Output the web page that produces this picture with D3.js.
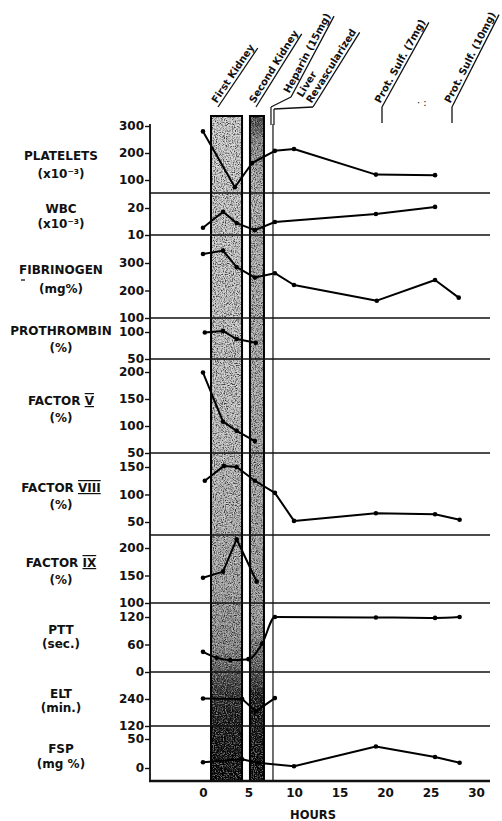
<!DOCTYPE html>
<html>
<head>
<meta charset="utf-8" />
<title>Coagulation profile</title>
<style>
  html, body { margin: 0; background: #fff; }
  svg text { font-family: "DejaVu Sans", sans-serif; fill: #111; }
</style>
</head>
<body>
<div id="container"></div>
<script src="https://cdn.jsdelivr.net/npm/d3@7/dist/d3.min.js"></script>
<script>
// ---- data (hours after start) ----
var xTicks = [0, 5, 10, 15, 20, 25, 30];

var panelNames = ["PLATELETS", "WBC", "FIBRINOGEN", "PROTHROMBIN", "FACTOR V",
                  "FACTOR VIII", "FACTOR IX", "PTT", "ELT", "FSP"];
var panelUnits = ["(x10\u207B\u00B3)", "(x10\u207B\u00B3)", "(mg%)", "(%)", "(%)",
                  "(%)", "(%)", "(sec.)", "(min.)", "(mg %)"];
var panelTicks = [[100, 200, 300], [10, 20], [100, 200, 300], [50, 100], [50, 100, 150, 200],
                  [50, 100, 150], [100, 150, 200], [0, 60, 120], [120, 240], [0, 50]];

var plateletHours = [0, 3.5, 5.4, 7.9, 10, 19, 25.5];
var plateletValues = [280, 73, 163, 208, 215, 120, 118];

var wbcHours = [0, 2.2, 3.7, 5.7, 7.9, 19, 25.5];
var wbcValues = [12.7, 18.6, 14.4, 11.8, 14.8, 17.8, 20.4];

var fibHours = [0, 2.2, 3.7, 5.7, 7.9, 10, 19.1, 25.5, 28.1];
var fibValues = [333, 345, 285, 247, 263, 220, 163, 238, 174];

var prothHours = [0.2, 2.2, 3.7, 5.8];
var prothValues = [99, 102, 87, 80];

var f5Hours = [0, 2.2, 3.7, 5.7];
var f5Values = [199, 108, 91, 72];

var f8Hours = [0.2, 2.3, 3.7, 5.7, 7.9, 10, 19, 25.5, 28.2];
var f8Values = [125, 152, 150, 125, 103, 52, 66, 64, 54];

var f9Hours = [0, 2.2, 3.7, 5.9];
var f9Values = [146, 157, 216, 139];

var pttHours = [0, 1.5, 3, 5, 6.5, 7.9, 19, 25.5, 28.2];
var pttValues = [44, 31, 26, 28, 62, 120, 119, 118, 120];

var eltHours = [0, 4.3, 5.8, 7.9];
var eltValues = [242, 240, 185, 244];

var fspHours = [0, 4.3, 6, 10, 19, 25.5, 28.2];
var fspValues = [10, 15, 9, 3, 37, 19, 9];

var seriesHours = [plateletHours, wbcHours, fibHours, prothHours, f5Hours,
                   f8Hours, f9Hours, pttHours, eltHours, fspHours];
var seriesValues = [plateletValues, wbcValues, fibValues, prothValues, f5Values,
                    f8Values, f9Values, pttValues, eltValues, fspValues];

var kidneyBands = [[0.88, 4.29], [5.16, 6.7]];
var heparinHour = 7.69;
var eventLabels = [["First Kidney"], ["Second Kidney"], ["Heparin (15mg)"],
                   ["Liver", "Revascularized"], ["Prot. Sulf. (7mg)"], ["Prot. Sulf. (10mg)"]];

// ---- layout ----
// lo/hi: [value, pixel y] pairs of two ticks; line: y of the rule under the panel
var layout = [
  {lo: [100, 180], hi: [300, 126], line: 193, nameY: 160, unitY: 178},
  {lo: [10, 235], hi: [20, 208], line: 235, nameY: 213, unitY: 228},
  {lo: [100, 318], hi: [300, 263], line: 318, nameY: 274, unitY: 293},
  {lo: [50, 359], hi: [100, 332], line: 359, nameY: 335, unitY: 352},
  {lo: [50, 453], hi: [200, 372], line: 453, nameY: 405, unitY: 422},
  {lo: [50, 522], hi: [150, 467], line: 535, nameY: 492, unitY: 509},
  {lo: [100, 603], hi: [200, 548], line: 603, nameY: 567, unitY: 584},
  {lo: [0, 672], hi: [120, 617], line: 672, nameY: 634, unitY: 648},
  {lo: [120, 726], hi: [240, 699], line: 726, nameY: 698, unitY: 712},
  {lo: [0, 768], hi: [50, 739], line: null, nameY: 753, unitY: 768}
];
var annoLayout = [
  {x: 218, y: 107, a: -56}, {x: 256, y: 107, a: -58}, {x: 291, y: 97, a: -62},
  {x: 313, y: 107, a: -58}, {x: 382, y: 107, a: -61}, {x: 452, y: 107, a: -63}
];

var W = 502, H = 821;
var axisX = 150, rightX = 490, bandTop = 116, baseY = 781;

var x = d3.scaleLinear().domain([0, 30]).range([203, 476]);

var svg = d3.select("#container").append("svg")
    .attr("width", W).attr("height", H);

var defs = svg.append("defs");

function gradient(id, stops) {
  var g = defs.append("linearGradient").attr("id", id)
      .attr("x1", 0).attr("y1", 0).attr("x2", 0).attr("y2", 1);
  stops.forEach(function(s) {
    g.append("stop").attr("offset", s[0]).attr("stop-color", s[1]);
  });
}
gradient("band1", [[0, "#d0d0d0"], [0.5, "#c0c0c0"], [0.7, "#a6a6a6"], [0.8, "#888"],
                   [0.86, "#333"], [0.9, "#141414"], [1, "#000"]]);
gradient("band2", [[0, "#3a3a3a"], [0.04, "#8a8a8a"], [0.1, "#b2b2b2"], [0.75, "#a0a0a0"],
                   [0.83, "#5a5a5a"], [0.87, "#151515"], [1, "#000"]]);

function speckle(id, seed, color) {
  var f = defs.append("filter").attr("id", id)
      .attr("x", 0).attr("y", 0).attr("width", 1).attr("height", 1);
  f.append("feTurbulence").attr("type", "fractalNoise").attr("baseFrequency", 0.9)
      .attr("numOctaves", 2).attr("seed", seed).attr("result", "n");
  f.append("feColorMatrix").attr("in", "n").attr("type", "matrix")
      .attr("values", "0 0 0 0 " + color + "  0 0 0 0 " + color + "  0 0 0 0 " + color + "  3.4 0 0 0 -1.5")
      .attr("result", "d");
  f.append("feComposite").attr("in", "d").attr("in2", "SourceGraphic").attr("operator", "in");
}
speckle("darkSpeck", 3, 0);
speckle("lightSpeck", 11, 1);

// kidney bands
var bands = svg.append("g").attr("class", "bands");
kidneyBands.forEach(function(b, i) {
  var bx = x(b[0]), bw = x(b[1]) - x(b[0]);
  bands.append("rect").attr("x", bx).attr("y", bandTop).attr("width", bw)
      .attr("height", baseY - bandTop).attr("fill", "url(#band" + (i + 1) + ")");
  bands.append("rect").attr("x", bx).attr("y", bandTop).attr("width", bw)
      .attr("height", baseY - bandTop).attr("fill", "#000").attr("opacity", 0.7)
      .attr("filter", "url(#darkSpeck)");
  bands.append("rect").attr("x", bx).attr("y", bandTop).attr("width", bw)
      .attr("height", baseY - bandTop).attr("fill", "#fff").attr("opacity", 0.45)
      .attr("filter", "url(#lightSpeck)");
  bands.append("rect").attr("x", bx).attr("y", bandTop).attr("width", bw)
      .attr("height", baseY - bandTop).attr("fill", "none")
      .attr("stroke", "#000").attr("stroke-width", 2);
});

// heparin rule
var hx = x(heparinHour);
svg.append("line").attr("x1", hx).attr("x2", hx).attr("y1", 124).attr("y2", baseY)
    .attr("stroke", "#111").attr("stroke-width", 1.2);
svg.append("line").attr("x1", hx - 2).attr("x2", hx - 2).attr("y1", 107).attr("y2", 125)
    .attr("stroke", "#111").attr("stroke-width", 1.2);
svg.append("line").attr("x1", hx + 1).attr("x2", hx + 1).attr("y1", 109).attr("y2", 125)
    .attr("stroke", "#111").attr("stroke-width", 1.2);

// panel rules
svg.append("g").selectAll("line")
  .data(layout.filter(function(d) { return d.line != null; }))
  .enter().append("line")
    .attr("x1", axisX).attr("x2", rightX)
    .attr("y1", function(d) { return d.line; }).attr("y2", function(d) { return d.line; })
    .attr("stroke", "#111").attr("stroke-width", 1.3);

// left axis + bottom axis
svg.append("line").attr("x1", axisX).attr("x2", axisX).attr("y1", 124).attr("y2", baseY + 1)
    .attr("stroke", "#111").attr("stroke-width", 1.8);
svg.append("line").attr("x1", axisX - 1).attr("x2", rightX).attr("y1", baseY).attr("y2", baseY)
    .attr("stroke", "#111").attr("stroke-width", 2.6);

var xAxis = svg.append("g").attr("transform", "translate(0," + baseY + ")")
    .call(d3.axisBottom(x).tickValues(xTicks).tickSize(0).tickPadding(7));
xAxis.select(".domain").remove();
xAxis.selectAll("text").attr("font-size", 12).attr("font-weight", "bold")
    .attr("font-family", "DejaVu Sans, sans-serif").attr("fill", "#111");

svg.append("text").attr("x", 313).attr("y", 819).attr("text-anchor", "middle")
    .attr("font-size", 11.5).attr("font-weight", "bold").text("HOURS");

// panels
var line = d3.line();
layout.forEach(function(L, i) {
  var y = d3.scaleLinear().domain([L.lo[0], L.hi[0]]).range([L.lo[1], L.hi[1]]);

  var ax = svg.append("g").attr("transform", "translate(" + axisX + ",0)")
      .call(d3.axisLeft(y).tickValues(panelTicks[i]).tickSize(5).tickPadding(1));
  ax.select(".domain").remove();
  ax.selectAll(".tick line").attr("stroke", "#111").attr("stroke-width", 1.4);
  ax.selectAll("text").attr("font-size", 12).attr("font-weight", "bold")
      .attr("font-family", "DejaVu Sans, sans-serif").attr("fill", "#111");

  // label
  var name = panelNames[i];
  var t = svg.append("text").attr("x", 61).attr("y", L.nameY).attr("text-anchor", "middle")
      .attr("font-size", 12).attr("font-weight", "bold");
  if (name.indexOf("FACTOR ") == 0) {
    t.append("tspan").text("FACTOR ");
    t.append("tspan").text(name.slice(7)).attr("text-decoration", "underline overline");
  } else {
    t.text(name);
  }
  svg.append("text").attr("x", 61).attr("y", L.unitY).attr("text-anchor", "middle")
      .attr("font-size", 12).attr("font-weight", "bold").text(panelUnits[i]);

  var pts = seriesHours[i].map(function(h, j) { return [x(h), y(seriesValues[i][j])]; });
  line.curve(name == "PTT" ? d3.curveMonotoneX : d3.curveLinear);
  svg.append("path").attr("d", line(pts)).attr("fill", "none")
      .attr("stroke", "#000").attr("stroke-width", 2).attr("stroke-linejoin", "round");
  svg.append("g").selectAll("circle").data(pts).enter().append("circle")
      .attr("cx", function(d) { return d[0]; }).attr("cy", function(d) { return d[1]; })
      .attr("r", 2.3).attr("fill", "#000");
});

// small mark under FIBRINOGEN
svg.append("line").attr("x1", 21).attr("x2", 25).attr("y1", 280).attr("y2", 280)
    .attr("stroke", "#111").attr("stroke-width", 1.3);

// event annotations
var anno = svg.append("g");
eventLabels.forEach(function(lines, i) {
  var a = annoLayout[i];
  var g = anno.append("g").attr("transform", "translate(" + a.x + "," + a.y + ") rotate(" + a.a + ")");
  var len = 0;
  lines.forEach(function(s, k) {
    var tx = g.append("text").attr("x", 2).attr("y", -3 - (lines.length - 1 - k) * 11)
        .attr("font-size", 10).attr("font-weight", "bold").text(s);
    len = Math.max(len, tx.node().getComputedTextLength());
  });
  g.append("line").attr("x1", 0).attr("x2", len + 3).attr("y1", 0).attr("y2", 0)
      .attr("stroke", "#111").attr("stroke-width", 1.3);
});
// leaders down to the rules
var leaders = [[hx - 2, 107, 291, 97], [hx + 1, 109, 313, 107], [382, 107, 382, 123], [452, 107, 452, 123]];
anno.selectAll("line.leader").data(leaders).enter().append("line")
    .attr("class", "leader")
    .attr("x1", function(d) { return d[0]; }).attr("y1", function(d) { return d[1]; })
    .attr("x2", function(d) { return d[2]; }).attr("y2", function(d) { return d[3]; })
    .attr("stroke", "#111").attr("stroke-width", 1.3);
anno.append("text").attr("x", 417).attr("y", 106).attr("font-size", 10).text("\u00B7 :");
</script>
</body>
</html>
